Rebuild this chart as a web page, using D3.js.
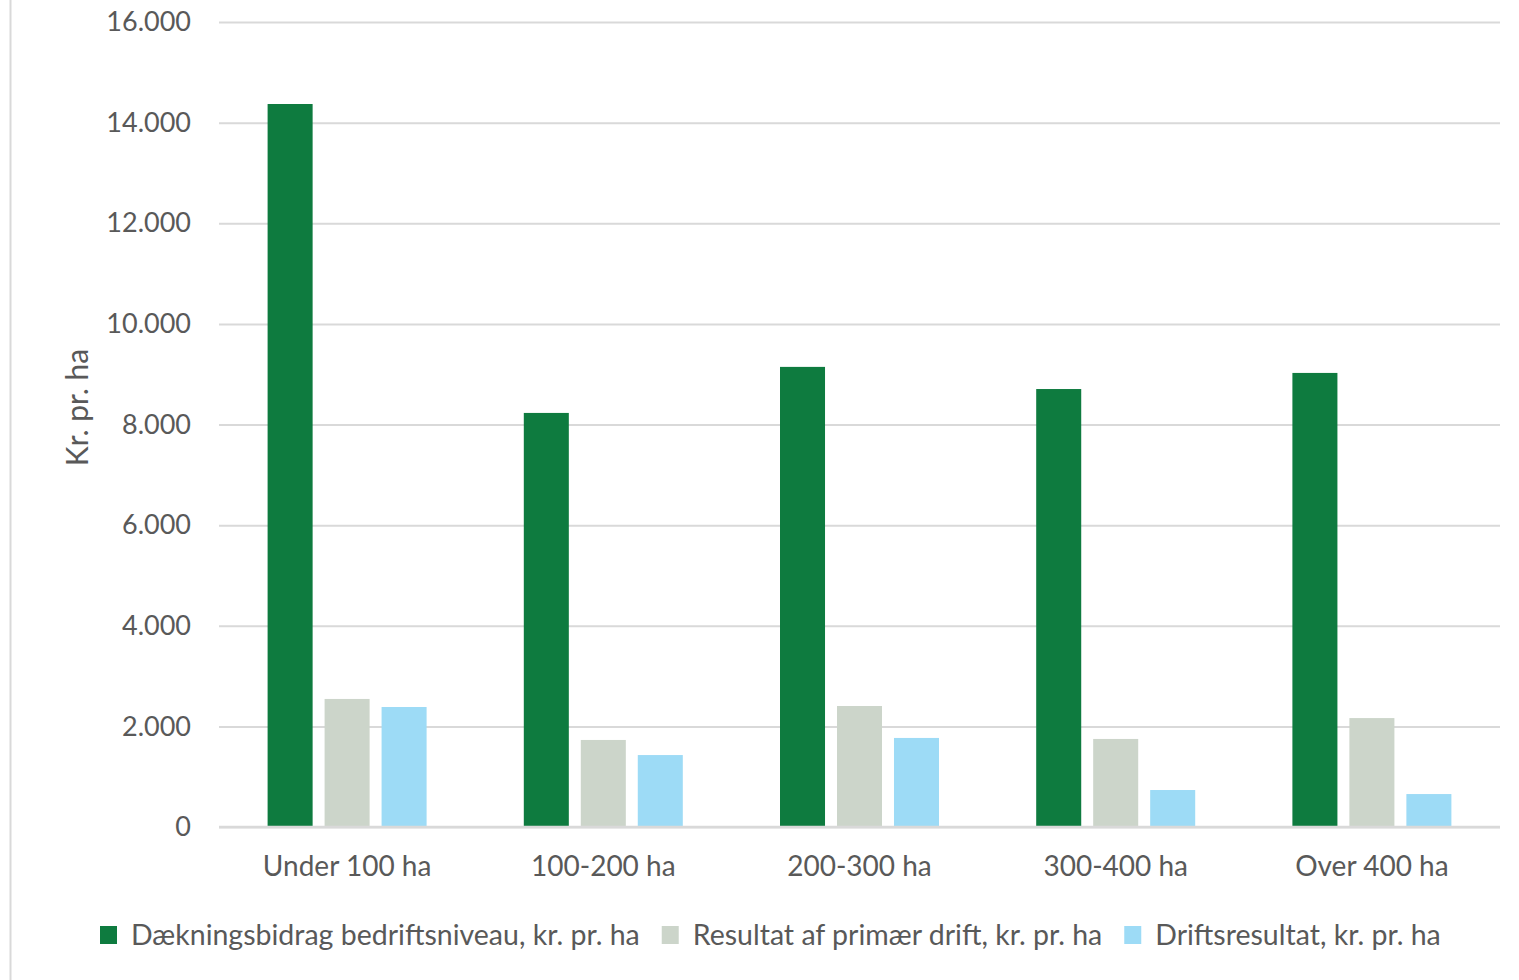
<!DOCTYPE html>
<html>
<head>
<meta charset="utf-8">
<script src="https://cdn.jsdelivr.net/npm/d3@7"></script>
<style>
  html, body { margin: 0; padding: 0; background: #fff; }
  svg { display: block; }
  text { font-family: Lato, "Open Sans", sans-serif; fill: #595959; }
</style>
</head>
<body>
<svg id="chart" width="1519" height="980"></svg>
<script>
// categories and series
const categories = ["Under 100 ha", "100-200 ha", "200-300 ha", "300-400 ha", "Over 400 ha"];
const seriesNames = [
  "Dækningsbidrag bedriftsniveau, kr. pr. ha",
  "Resultat af primær drift, kr. pr. ha",
  "Driftsresultat, kr. pr. ha"
];
const seriesColors = ["#0e7b3f", "#ccd5ca", "#9ddbf6"];

// values (kr. pr. ha)
const daekningsbidrag = [14370, 8230, 9145, 8705, 9025];
const primaerDrift = [2545, 1730, 2405, 1750, 2165];
const driftsresultat = [2385, 1430, 1770, 735, 655];

const yTicks = [0, 2000, 4000, 6000, 8000, 10000, 12000, 14000, 16000];

const seriesValues = [daekningsbidrag, primaerDrift, driftsresultat];
const rows = categories.map((c, i) => ({
  category: c,
  values: seriesNames.map((s, j) => ({ series: s, value: seriesValues[j][i], color: seriesColors[j] }))
}));

const svg = d3.select("#chart");

// left border of the chart frame
svg.append("line")
  .attr("x1", 10.5).attr("x2", 10.5)
  .attr("y1", 0).attr("y2", 980)
  .attr("stroke", "#d9d9d9")
  .attr("stroke-width", 2);

const plot = { left: 219, right: 1500, top: 22, bottom: 827 };

const x0 = d3.scaleBand()
  .domain(categories)
  .range([plot.left, plot.right])
  .padding(0);

// bars fill about 159px of each 256px band
const groupInset = (x0.bandwidth() - 159) / 2;
const x1 = d3.scaleBand()
  .domain(seriesNames)
  .range([groupInset, x0.bandwidth() - groupInset])
  .paddingInner(0.21)
  .paddingOuter(0);

const y = d3.scaleLinear()
  .domain([0, 16000])
  .range([plot.bottom, plot.top]);

const fmt = d3.formatLocale({ decimal: ",", thousands: ".", grouping: [3], currency: ["", " kr."] }).format(",");

// gridlines + y tick labels
const yAxis = d3.axisLeft(y)
  .tickValues(yTicks)
  .tickFormat(fmt)
  .tickSize(-(plot.right - plot.left))
  .tickPadding(28);

const yG = svg.append("g")
  .attr("transform", `translate(${plot.left},0)`)
  .call(yAxis);
yG.select(".domain").remove();
yG.selectAll(".tick line")
  .attr("stroke", "#d9d9d9")
  .attr("stroke-width", 2);
yG.selectAll(".tick text")
  .attr("font-size", 27)
  .attr("fill", "#595959")
  .style("font-family", "Lato, 'Open Sans', sans-serif");

// bars
svg.append("g")
  .selectAll("g")
  .data(rows)
  .join("g")
  .attr("transform", d => `translate(${x0(d.category)},0)`)
  .selectAll("rect")
  .data(d => d.values)
  .join("rect")
  .attr("x", d => x1(d.series))
  .attr("width", x1.bandwidth())
  .attr("y", d => y(d.value))
  .attr("height", d => y(0) - y(d.value))
  .attr("fill", d => d.color);

// baseline
svg.append("line")
  .attr("x1", plot.left).attr("x2", plot.right)
  .attr("y1", y(0)).attr("y2", y(0))
  .attr("stroke", "#d9d9d9")
  .attr("stroke-width", 2.5);

// x axis labels
const xAxis = d3.axisBottom(x0).tickSize(0).tickPadding(29);
const xG = svg.append("g")
  .attr("transform", `translate(0,${plot.bottom})`)
  .call(xAxis);
xG.select(".domain").remove();
xG.selectAll(".tick text")
  .attr("font-size", 28)
  .attr("fill", "#595959")
  .style("font-family", "Lato, 'Open Sans', sans-serif");

// y axis title
svg.append("text")
  .attr("transform", `translate(88,${(plot.top + plot.bottom) / 2 - 17}) rotate(-90)`)
  .attr("text-anchor", "middle")
  .attr("font-size", 30)
  .text("Kr. pr. ha");

// legend
const legend = svg.append("g").attr("transform", "translate(100,935)");
let lx = 0;
seriesNames.forEach((name, i) => {
  const item = legend.append("g").attr("transform", `translate(${lx},0)`);
  item.append("rect")
    .attr("x", 0).attr("y", -9)
    .attr("width", 17).attr("height", 18)
    .attr("fill", seriesColors[i]);
  const t = item.append("text")
    .attr("x", 31).attr("y", 10)
    .attr("font-size", 28.5)
    .text(name);
  lx += 31 + t.node().getComputedTextLength() + 22;
});
</script>
</body>
</html>
